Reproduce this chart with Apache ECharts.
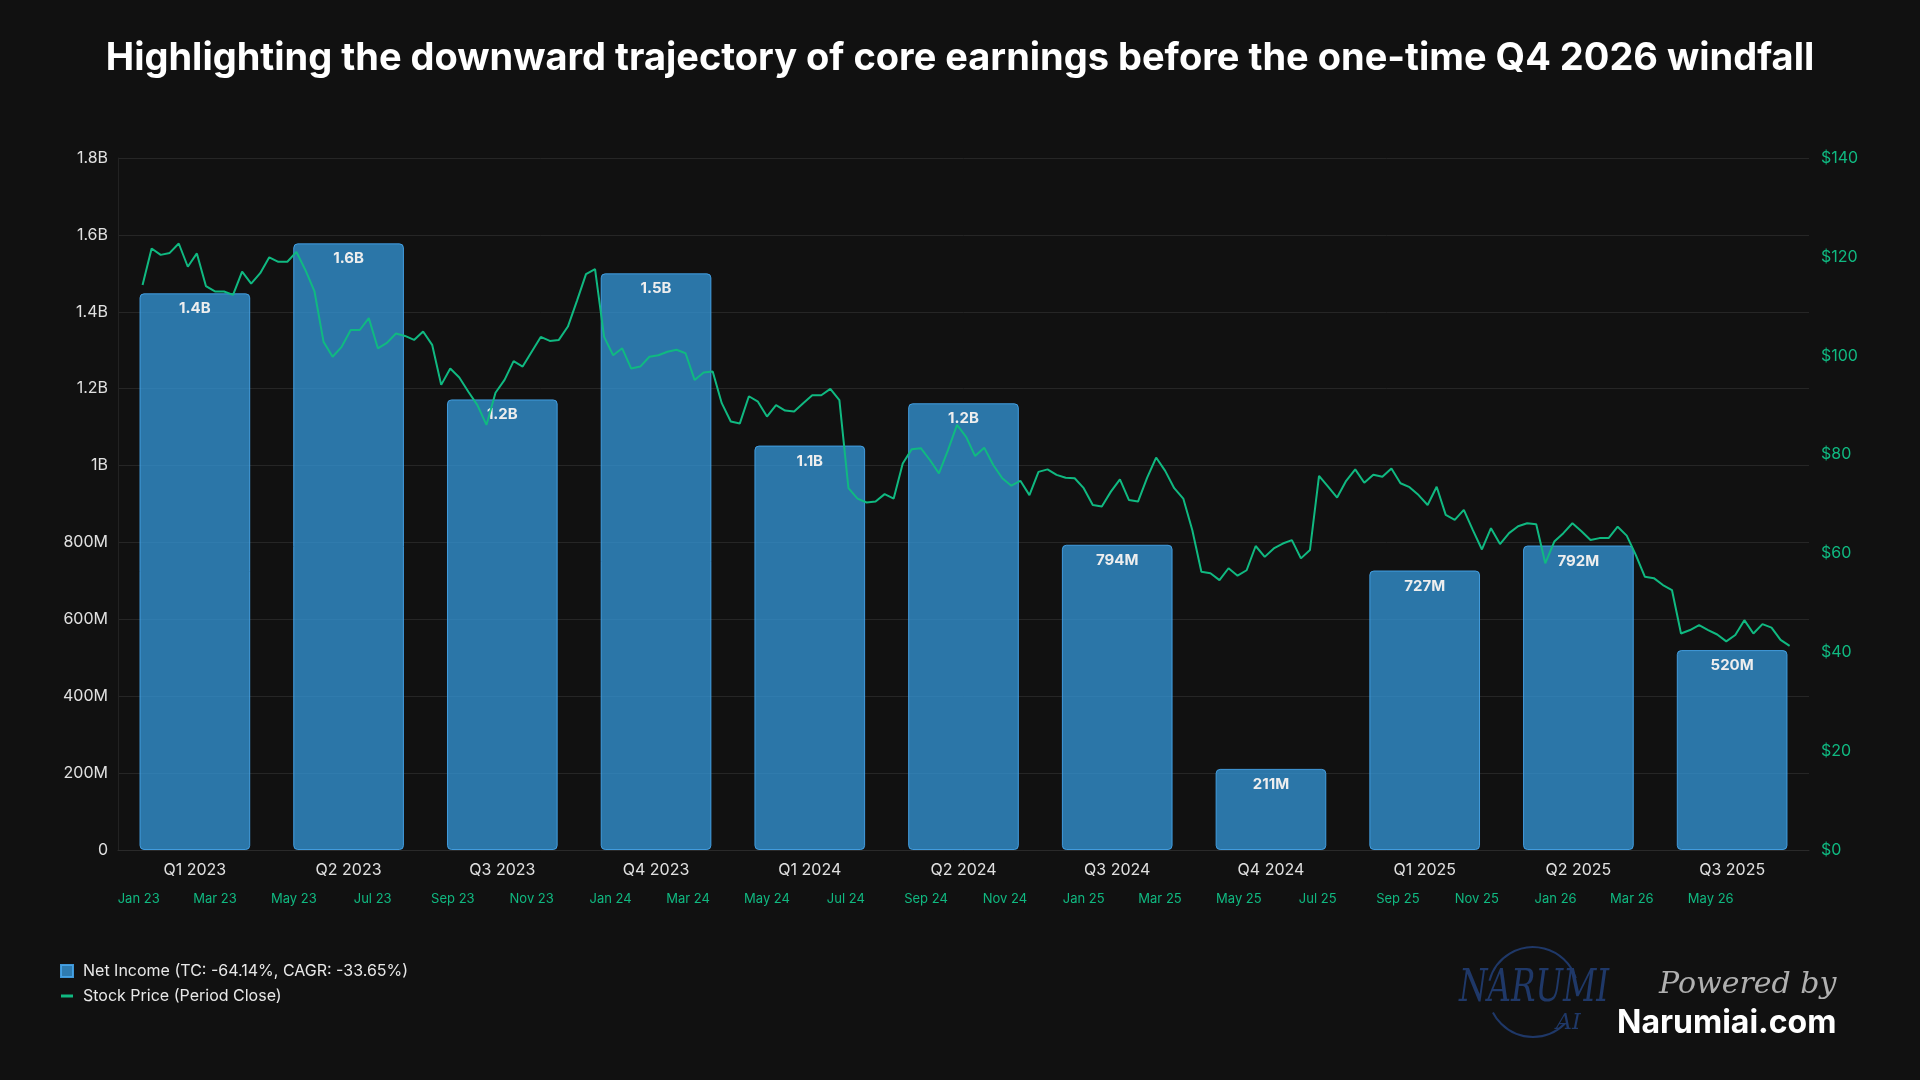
<!DOCTYPE html>
<html>
<head>
<meta charset="utf-8">
<title>Net Income vs Stock Price</title>
<script src="https://cdn.jsdelivr.net/npm/echarts@6/dist/echarts.min.js"></script>
<style>
  html, body { margin: 0; padding: 0; background: #111111; }
  #chart { width: 1920px; height: 1080px; }
</style>
</head>
<body>
<div id="chart"></div>
<script>
  // quarterly net income (bars)
  const quarters = ['Q1 2023', 'Q2 2023', 'Q3 2023', 'Q4 2023', 'Q1 2024', 'Q2 2024',
    'Q3 2024', 'Q4 2024', 'Q1 2025', 'Q2 2025', 'Q3 2025']
  const netIncome = [1448e6, 1578e6, 1172e6, 1500e6, 1052e6, 1162e6, 794e6, 211e6, 727e6, 792e6, 520e6]

  const priceStart = '2023-01-04'
  const priceStepDays = 7
  const stockPrice = [
    114.3, 121.7, 120.4, 120.8, 122.7, 118.0, 120.7, 114.1, 113.0, 113.0,
    112.3, 117.0, 114.6, 116.7, 119.9, 119.0, 119.0, 121.0, 117.3, 113.0,
    102.8, 99.8, 101.8, 105.2, 105.2, 107.6, 101.5, 102.6, 104.5, 104.0,
    103.2, 104.9, 102.2, 94.1, 97.4, 95.6, 92.7, 90.0, 86.0, 92.5,
    95.1, 98.9, 97.8, 100.8, 103.8, 103.0, 103.2, 105.9, 111.1, 116.5,
    117.5, 103.8, 100.1, 101.5, 97.4, 97.8, 99.8, 100.1, 100.8, 101.2,
    100.5, 95.1, 96.6, 96.8, 90.4, 86.7, 86.3, 91.8, 90.7, 87.7,
    90.0, 88.9, 88.7, 90.4, 92.0, 92.0, 93.3, 91.0, 73.2, 71.1,
    70.3, 70.5, 72.0, 71.1, 78.2, 81.1, 81.3, 78.9, 76.2, 80.9,
    86.0, 83.6, 79.7, 81.4, 77.9, 75.2, 73.7, 74.7, 71.8, 76.5,
    77.0, 75.9, 75.3, 75.2, 73.2, 69.8, 69.5, 72.5, 75.0, 70.8,
    70.5, 75.3, 79.4, 76.7, 73.2, 71.1, 64.7, 56.3, 56.0, 54.6,
    57.0, 55.5, 56.6, 61.5, 59.3, 61.0, 62.0, 62.7, 59.0, 60.7,
    75.7, 73.5, 71.3, 74.7, 77.0, 74.3, 75.9, 75.5, 77.2, 74.2,
    73.4, 71.8, 69.8, 73.5, 67.8, 66.8, 68.8, 64.7, 60.8, 65.1,
    61.9, 64.1, 65.5, 66.1, 65.9, 58.0, 62.4, 64.1, 66.1, 64.5,
    62.7, 63.1, 63.1, 65.4, 63.6, 59.7, 55.3, 55.0, 53.6, 52.6,
    43.8, 44.5, 45.5, 44.5, 43.6, 42.2, 43.5, 46.5, 43.8, 45.7,
    45.0, 42.5, 41.3
  ]

  // date axis ticks (every other month)
  const dateTicks = ['2023-01-01', '2023-03-01', '2023-05-01', '2023-07-01', '2023-09-01', '2023-11-01',
    '2024-01-01', '2024-03-01', '2024-05-01', '2024-07-01', '2024-09-01', '2024-11-01',
    '2025-01-01', '2025-03-01', '2025-05-01', '2025-07-01', '2025-09-01', '2025-11-01',
    '2026-01-01', '2026-03-01', '2026-05-01']
  const incomeLegend = 'Net Income (TC: -64.14%, CAGR: -33.65%)'
  const priceLegend = 'Stock Price (Period Close)'

  const MONTHS = ['Jan', 'Feb', 'Mar', 'Apr', 'May', 'Jun', 'Jul', 'Aug', 'Sep', 'Oct', 'Nov', 'Dec']
  const GREEN = '#10b981'
  const FONT = 'Inter, "Noto Sans", sans-serif'

  function fmtMoney(v) {
    if (v === 0) return '0'
    if (v >= 1e9) return (v / 1e9).toFixed(1).replace(/\.0$/, '') + 'B'
    return Math.round(v / 1e6) + 'M'
  }

  const ts = d => new Date(d + 'T00:00:00Z').getTime()
  const t0 = ts(priceStart)
  const priceData = stockPrice.map((p, i) => [t0 + i * priceStepDays * 864e5, p])

  const chart = echarts.init(document.getElementById('chart'), null, {renderer: 'canvas'})
  chart.setOption({
    backgroundColor: '#111111',
    animation: false,
    textStyle: {fontFamily: FONT},
    title: {
      text: 'Highlighting the downward trajectory of core earnings before the one-time Q4 2026 windfall',
      left: 'center',
      top: 40,
      padding: 0,
      textStyle: {color: '#ffffff', fontSize: 38, fontWeight: 'bold', fontFamily: FONT}
    },
    legend: {
      orient: 'vertical',
      left: 55,
      top: 958,
      itemWidth: 12,
      itemHeight: 12,
      itemGap: 9,
      textStyle: {color: '#e8e8e8', fontSize: 16, padding: [0, 0, 0, 5]},
      data: [
        {name: incomeLegend, icon: 'rect', itemStyle: {color: '#2e7bb0'}},
        {name: priceLegend, icon: 'path://M0,5 L12,5 L12,8 L0,8 Z'}
      ]
    },
    grid: {left: 118, right: 111, top: 158, bottom: 230},
    xAxis: [
      {
        type: 'category',
        data: quarters,
        axisLine: {lineStyle: {color: '#2a2a2a'}},
        axisTick: {show: false},
        axisLabel: {color: '#e0e0e0', fontSize: 16, margin: 12}
      },
      {
        // dates kept as timestamps on a plain value axis
        type: 'value',
        position: 'bottom',
        offset: 34,
        min: ts('2022-12-16'),
        max: ts('2026-07-16'),
        axisLine: {show: false},
        axisTick: {show: false},
        splitLine: {show: false},
        axisLabel: {
          color: GREEN,
          fontSize: 13,
          margin: 9,
          customValues: dateTicks.map(ts),
          formatter: function (v) {
            const d = new Date(v)
            return MONTHS[d.getUTCMonth()] + ' ' + String(d.getUTCFullYear()).slice(2)
          }
        }
      }
    ],
    yAxis: [
      {
        type: 'value',
        min: 0,
        max: 1.8e9,
        interval: 0.2e9,
        axisLine: {show: true, lineStyle: {color: '#222222'}},
        axisTick: {show: false},
        splitLine: {lineStyle: {color: '#262626'}},
        axisLabel: {color: '#e0e0e0', fontSize: 16, margin: 10, formatter: fmtMoney}
      },
      {
        type: 'value',
        position: 'right',
        min: 0,
        max: 140,
        interval: 20,
        axisLine: {show: false},
        axisTick: {show: false},
        splitLine: {show: false},
        axisLabel: {color: GREEN, fontSize: 16, margin: 12, formatter: v => '$' + v}
      }
    ],
    series: [
      {
        name: incomeLegend,
        type: 'bar',
        xAxisIndex: 0,
        yAxisIndex: 0,
        barWidth: '72%',
        data: netIncome,
        itemStyle: {
          color: 'rgba(52, 152, 219, 0.75)',
          borderColor: 'rgba(70, 165, 235, 0.9)',
          borderWidth: 1,
          borderRadius: 4
        },
        label: {
          show: true,
          position: 'insideTop',
          distance: 8,
          color: '#eeeeee',
          fontSize: 15,
          fontWeight: 'bold',
          formatter: p => fmtMoney(p.value)
        },
        z: 2
      },
      {
        name: priceLegend,
        type: 'line',
        xAxisIndex: 1,
        yAxisIndex: 1,
        data: priceData,
        symbol: 'none',
        showSymbol: false,
        lineStyle: {color: GREEN, width: 2},
        itemStyle: {color: GREEN},
        z: 3
      }
    ],
    graphic: [
      {
        type: 'arc',
        shape: {cx: 1533, cy: 992, r: 45, startAngle: Math.PI * 1.08, endAngle: Math.PI * 1.9},
        style: {stroke: '#1f3868', lineWidth: 2, fill: null}
      },
      {
        type: 'arc',
        shape: {cx: 1533, cy: 992, r: 45, startAngle: Math.PI * 0.25, endAngle: Math.PI * 0.85},
        style: {stroke: '#1f3868', lineWidth: 2, fill: null}
      },
      {
        type: 'text',
        x: 1459,
        y: 968,
        scaleX: 0.74,
        style: {text: 'NARUMI', fill: '#1f3868', font: 'italic 44px "DejaVu Serif", serif'}
      },
      {
        type: 'text',
        left: 1556,
        top: 1012,
        style: {text: 'AI', fill: '#1f3868', font: 'italic 22px "DejaVu Serif", serif'}
      },
      {
        type: 'text',
        left: 1659,
        top: 970,
        style: {text: 'Powered by', fill: '#b0b0b0', font: 'italic 30px "DejaVu Serif", cursive'}
      },
      {
        type: 'text',
        left: 1617,
        top: 1007,
        style: {text: 'Narumiai.com', fill: '#ffffff', font: 'bold 32px Inter, sans-serif'}
      }
    ]
  })
</script>
</body>
</html>
